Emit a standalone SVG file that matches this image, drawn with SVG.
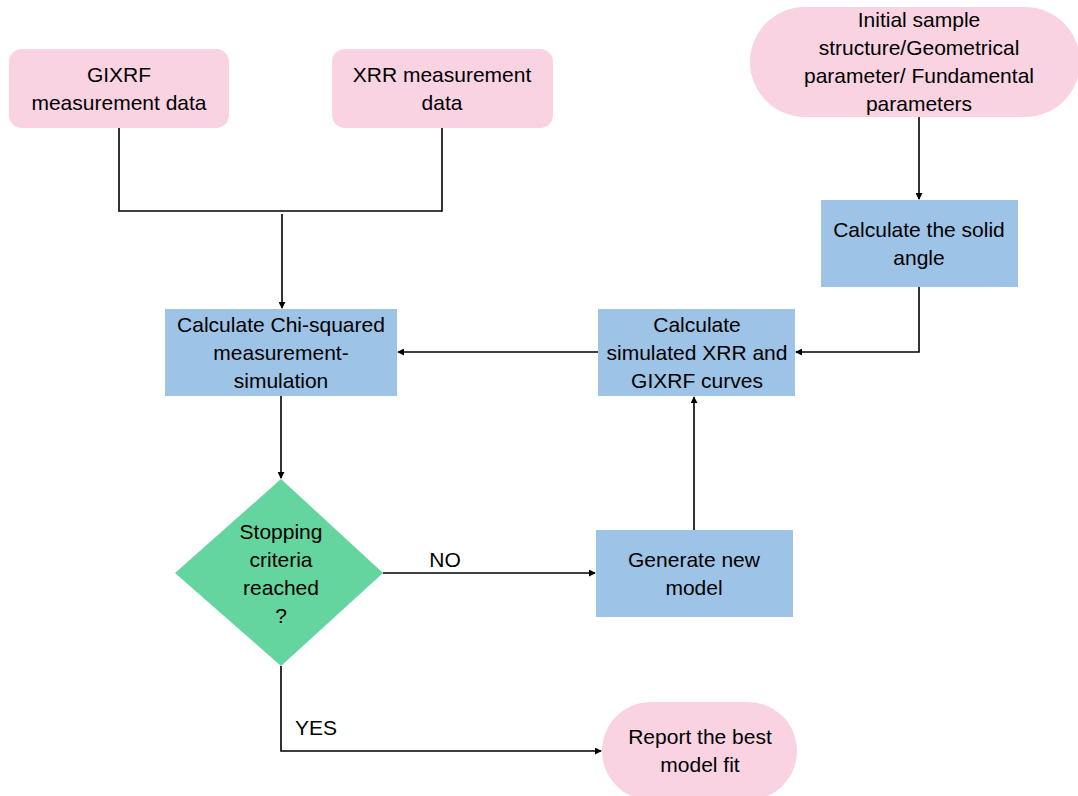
<svg xmlns="http://www.w3.org/2000/svg" width="1078" height="796" viewBox="0 0 1078 796">
<style>
.t{font-family:"Liberation Sans",Arial,sans-serif;font-size:21px;fill:#000;text-anchor:middle}
.pink{fill:#F9D3E2}
.blue{fill:#9DC3E6}
.green{fill:#64D59F}
.c{fill:none;stroke:#000;stroke-width:1.6}
</style>
<defs>
<marker id="ah" viewBox="0 0 8 8" refX="7" refY="4" markerWidth="7" markerHeight="7" markerUnits="userSpaceOnUse" orient="auto">
<path d="M0,0 L8,4 L0,8 z" fill="#000"/>
</marker>
</defs>
<rect width="1078" height="796" fill="#fff"/>
<g id="connectors">
<path class="c" d="M119,128 V211 H442 V128"/>
<path class="c" d="M282,214 V308" marker-end="url(#ah)"/>
<path class="c" d="M919,117 V199" marker-end="url(#ah)"/>
<path class="c" d="M919,287 V352 H796" marker-end="url(#ah)"/>
<path class="c" d="M598,352 H398" marker-end="url(#ah)"/>
<path class="c" d="M281,396 V478" marker-end="url(#ah)"/>
<path class="c" d="M383,573 H595" marker-end="url(#ah)"/>
<path class="c" d="M694,530 V397" marker-end="url(#ah)"/>
<path class="c" d="M281,666 V751 H601" marker-end="url(#ah)"/>
<text class="t" x="445" y="567">NO</text>
<text class="t" x="316" y="735">YES</text>
</g>
<g id="gixrf">
<rect class="pink" x="9" y="49" width="220" height="79" rx="13"/>
<text class="t" x="119" y="82">GIXRF</text>
<text class="t" x="119" y="110">measurement data</text>
</g>
<g id="xrr">
<rect class="pink" x="332" y="49" width="221" height="79" rx="13"/>
<text class="t" x="442" y="82">XRR measurement</text>
<text class="t" x="442" y="110">data</text>
</g>
<g id="initial">
<rect class="pink" x="750" y="7" width="330" height="110" rx="55"/>
<text class="t" x="919" y="27">Initial sample</text>
<text class="t" x="919" y="55">structure/Geometrical</text>
<text class="t" x="919" y="83">parameter/ Fundamental</text>
<text class="t" x="919" y="111">parameters</text>
</g>
<g id="solid">
<rect class="blue" x="821" y="200" width="197" height="87"/>
<text class="t" x="919" y="237">Calculate the solid</text>
<text class="t" x="919" y="265">angle</text>
</g>
<g id="simulated">
<rect class="blue" x="598" y="309" width="197" height="87"/>
<text class="t" x="697" y="332">Calculate</text>
<text class="t" x="697" y="360">simulated XRR and</text>
<text class="t" x="697" y="388">GIXRF curves</text>
</g>
<g id="chi">
<rect class="blue" x="165" y="309" width="232" height="87"/>
<text class="t" x="281" y="332">Calculate Chi-squared</text>
<text class="t" x="281" y="360">measurement-</text>
<text class="t" x="281" y="388">simulation</text>
</g>
<g id="stopping">
<polygon class="green" points="281,479 383,573 281,666 175,573"/>
<text class="t" x="281" y="539">Stopping</text>
<text class="t" x="281" y="567">criteria</text>
<text class="t" x="281" y="595">reached</text>
<text class="t" x="281" y="623">?</text>
</g>
<g id="generate">
<rect class="blue" x="596" y="530" width="197" height="87"/>
<text class="t" x="694" y="567">Generate new</text>
<text class="t" x="694" y="595">model</text>
</g>
<g id="report">
<rect class="pink" x="602" y="702" width="195" height="98" rx="49"/>
<text class="t" x="700" y="744">Report the best</text>
<text class="t" x="700" y="772">model fit</text>
</g>
</svg>
